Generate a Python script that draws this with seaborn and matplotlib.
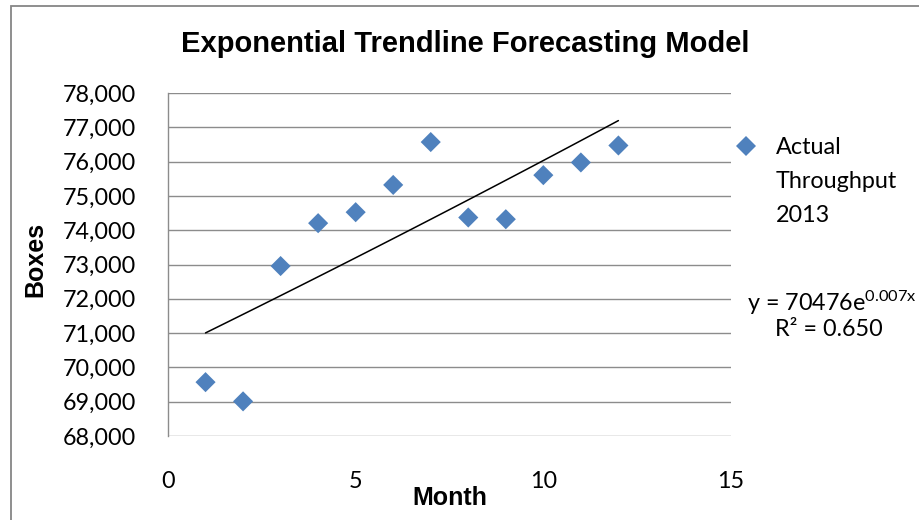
import numpy as np
import pandas as pd
import matplotlib
matplotlib.use("Agg")
import matplotlib.pyplot as plt
import seaborn as sns
from matplotlib.lines import Line2D
from matplotlib.patches import Rectangle
from matplotlib.ticker import FuncFormatter

# ---- data ----
months = [1, 2, 3, 4, 5, 6, 7, 8, 9, 10, 11, 12]
throughput = [69570, 69010, 72955, 74205, 74525, 75320, 76570, 74370, 74320, 75605, 75975, 76470]
series_label = "Actual Throughput 2013"
title = "Exponential Trendline Forecasting Model"
x_label = "Month"
y_label = "Boxes"
equation_text = "y = 70476e$^{\\mathrm{0.007x}}$"
r2_text = "R² = 0.650"
x_ticks = [0, 5, 10, 15]
y_ticks = [68000, 69000, 70000, 71000, 72000, 73000, 74000, 75000, 76000, 77000, 78000]

df = pd.DataFrame({"Month": months, "Boxes": throughput})

# exponential trendline fitted from the data
b, ln_a = np.polyfit(df["Month"], np.log(df["Boxes"]), 1)
trend_x = np.linspace(min(months), max(months), 50)
trend_df = pd.DataFrame({"Month": trend_x, "Boxes": np.exp(ln_a) * np.exp(b * trend_x)})

sns.set_theme(style="white")
plt.rcParams["font.family"] = ["Lato", "DejaVu Sans"]
plt.rcParams["text.color"] = "black"
plt.rcParams["mathtext.fontset"] = "custom"
plt.rcParams["mathtext.rm"] = "Lato"
plt.rcParams["mathtext.it"] = "Lato:italic"

W, H = 919, 520
fig = plt.figure(figsize=(W / 100, H / 100), dpi=100)
fig.patch.set_facecolor("white")
ax = fig.add_axes([168 / W, 1 - 436 / H, (731 - 168) / W, (436 - 93) / H])

blue = "#4F81BD"
grid_c = "#8C8C8C"
tick_fs = 16.8

sns.lineplot(data=trend_df, x="Month", y="Boxes", ax=ax, color="black", linewidth=1.1, zorder=3)
sns.scatterplot(data=df, x="Month", y="Boxes", ax=ax, marker="D", s=105, color=blue,
                edgecolor="none", linewidth=0, zorder=4, legend=False)

ax.set_xlim(0, 15)
ax.set_ylim(68000, 78000)
ax.set_xticks(x_ticks)
ax.set_yticks(y_ticks)
ax.yaxis.set_major_formatter(FuncFormatter(lambda v, p: f"{v:,.0f}"))
ax.grid(axis="y", color=grid_c, linewidth=1.0)
ax.grid(axis="x", visible=False)
ax.set_axisbelow(True)
for s in ["top", "right", "bottom"]:
    ax.spines[s].set_visible(False)
ax.spines["left"].set_color(grid_c)
ax.spines["left"].set_linewidth(1.0)
ax.tick_params(axis="both", length=0, labelsize=tick_fs, colors="black")
ax.tick_params(axis="y", pad=23)
ax.tick_params(axis="x", pad=25)
ax.set_xlabel("")
ax.set_ylabel("")

bold_fam = ["Liberation Sans", "DejaVu Sans"]
fig.text(465 / W, 1 - 44 / H, title, ha="center", va="center", fontsize=21,
         fontweight="bold", family=bold_fam, color="black")
fig.text(450 / W, 1 - 498 / H, x_label, ha="center", va="center", fontsize=18,
         fontweight="bold", family=bold_fam, color="black")
fig.text(35 / W, 1 - 259 / H, y_label, ha="center", va="center", rotation=90, fontsize=18,
         fontweight="bold", family=bold_fam, color="black")

# legend
handle = Line2D([], [], marker="D", linestyle="", color=blue, markersize=10, markeredgewidth=0)
leg = fig.legend(handles=[handle], labels=["Actual"], loc="center left",
                 bbox_to_anchor=(734 / W, 1 - 148 / H), frameon=False, fontsize=tick_fs,
                 handlelength=1.0, handletextpad=0.8, borderpad=0, borderaxespad=0,
                 labelcolor="black")

fig.canvas.draw()
bb = leg.get_texts()[0].get_window_extent()
cy = (bb.y0 + bb.y1) / 2
for i, line in enumerate(series_label.split(" ")[1:], start=1):
    fig.text(bb.x0 / W, (cy - 34 * i) / H, line, ha="left", va="center", fontsize=tick_fs,
             color="black")

fig.text(747 / W, 1 - 303 / H, equation_text, ha="left", va="center", fontsize=tick_fs,
         color="black")
fig.text(775 / W, 1 - 329 / H, r2_text, ha="left", va="center", fontsize=tick_fs,
         color="black")

# outer chart border
fig.patches.append(Rectangle((11 / W, -0.2), 1.5, 1.2 - 6 / H, transform=fig.transFigure,
                             fill=False, edgecolor="#868686", linewidth=1.3))

fig.savefig("out.png", dpi=100)
